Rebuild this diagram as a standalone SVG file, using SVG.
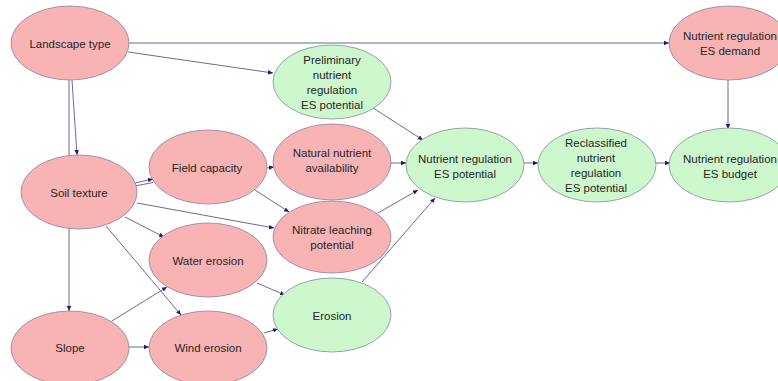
<svg xmlns="http://www.w3.org/2000/svg" width="778" height="381" viewBox="0 0 778 381">
<defs>
<marker id="ah" markerWidth="6" markerHeight="6" refX="5" refY="3" orient="auto" markerUnits="userSpaceOnUse">
<path d="M0,0.8 L5,3 L0,5.2 Z" fill="#1a1a70"/>
</marker>
<style>
.e{stroke:#5a5a86;stroke-width:0.9;fill:none}
.a{marker-end:url(#ah)}
.p{fill:#f8b4b4;stroke:#8e7f9e;stroke-width:0.8}
.g{fill:#cdf7cd;stroke:#7f8f9a;stroke-width:0.8}
text{font-family:"Liberation Sans",Arial,sans-serif;font-size:11.5px;fill:#262626;text-anchor:middle}
</style>
</defs>
<rect width="778" height="381" fill="#fff"/>
<g id="connectors">
<line class="e a" x1="128" y1="43" x2="669" y2="43"/>
<line class="e a" x1="128" y1="52" x2="273" y2="73"/>
<line class="e a" x1="69" y1="80" x2="69" y2="311"/>
<line class="e a" x1="72" y1="80" x2="77" y2="155"/>
<line class="e a" x1="135" y1="183" x2="153" y2="179"/>
<line class="e" x1="135" y1="186" x2="153" y2="182.5"/>
<line class="e a" x1="267" y1="168" x2="274" y2="167"/>
<line class="e a" x1="373" y1="108" x2="423" y2="140"/>
<line class="e a" x1="391" y1="163" x2="406" y2="163"/>
<line class="e a" x1="255" y1="190" x2="289" y2="212"/>
<line class="e a" x1="137" y1="203" x2="274" y2="228"/>
<line class="e a" x1="125" y1="217" x2="164" y2="237"/>
<line class="e a" x1="106" y1="226" x2="181" y2="315"/>
<line class="e a" x1="112" y1="321" x2="167" y2="287"/>
<line class="e a" x1="129" y1="347" x2="149" y2="347"/>
<line class="e a" x1="257" y1="283" x2="285" y2="295"/>
<line class="e a" x1="264" y1="333" x2="278" y2="329"/>
<line class="e a" x1="378" y1="213" x2="418" y2="190"/>
<line class="e a" x1="362" y1="282" x2="435" y2="198"/>
<line class="e a" x1="524" y1="163" x2="538" y2="163"/>
<line class="e a" x1="656" y1="163" x2="670" y2="163"/>
<line class="e a" x1="728" y1="80" x2="728" y2="129"/>
</g>
<g id="landscape"><ellipse class="p" cx="70" cy="43" rx="59" ry="37"/><text x="70" y="48">Landscape type</text></g>
<g id="preliminary"><ellipse class="g" cx="332" cy="82" rx="59" ry="37"/><text x="332" y="64">Preliminary</text><text x="332" y="79">nutrient</text><text x="332" y="94">regulation</text><text x="332" y="109">ES potential</text></g>
<g id="demand"><ellipse class="p" cx="729" cy="43" rx="60" ry="37"/><text x="730" y="40">Nutrient regulation</text><text x="730" y="55">ES demand</text></g>
<g id="soil"><ellipse class="p" cx="79" cy="192" rx="58" ry="37"/><text x="79" y="197">Soil texture</text></g>
<g id="field"><ellipse class="p" cx="208" cy="167" rx="59" ry="37"/><text x="207" y="172">Field capacity</text></g>
<g id="natural"><ellipse class="p" cx="332" cy="162" rx="59" ry="38"/><text x="332" y="157">Natural nutrient</text><text x="332" y="172">availability</text></g>
<g id="nrpotential"><ellipse class="g" cx="465" cy="165" rx="59" ry="37"/><text x="465" y="163">Nutrient regulation</text><text x="465" y="178">ES potential</text></g>
<g id="reclassified"><ellipse class="g" cx="597" cy="165" rx="59" ry="37"/><text x="596" y="147">Reclassified</text><text x="596" y="162">nutrient</text><text x="596" y="177">regulation</text><text x="596" y="192">ES potential</text></g>
<g id="budget"><ellipse class="g" cx="729" cy="165" rx="60" ry="37"/><text x="730" y="163">Nutrient regulation</text><text x="730" y="178">ES budget</text></g>
<g id="nitrate"><ellipse class="p" cx="332" cy="237" rx="59" ry="36"/><text x="332" y="234">Nitrate leaching</text><text x="332" y="249">potential</text></g>
<g id="water"><ellipse class="p" cx="208" cy="260" rx="59" ry="37"/><text x="208" y="265">Water erosion</text></g>
<g id="erosion"><ellipse class="g" cx="332" cy="315" rx="59" ry="37"/><text x="332" y="320">Erosion</text></g>
<g id="slope"><ellipse class="p" cx="70" cy="348" rx="59" ry="37"/><text x="70" y="352">Slope</text></g>
<g id="wind"><ellipse class="p" cx="208" cy="348" rx="59" ry="37"/><text x="208" y="352">Wind erosion</text></g>
</svg>
